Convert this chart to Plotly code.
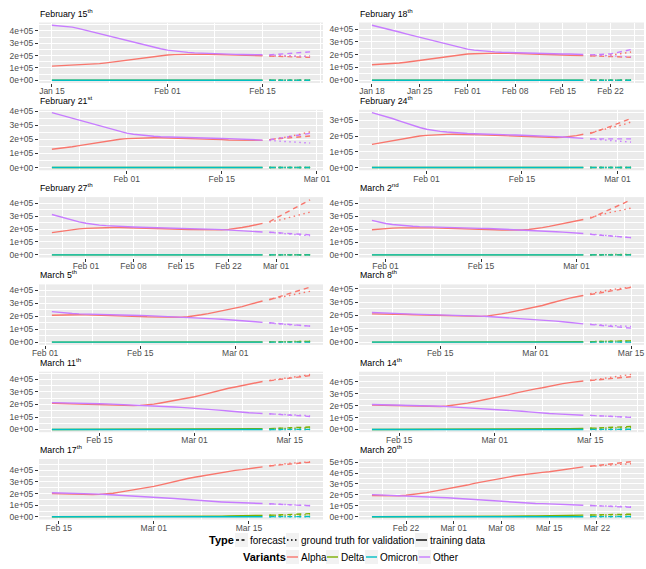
import pandas as pd
import plotly.graph_objects as go

# ---------------- data (values in thousands) ----------------
START = "2021-01-15"

ALPHA = [115, 117, 119, 122, 124, 127, 130, 135, 141, 148, 156, 164, 172, 180, 188, 195, 201,
         205, 208, 210, 211, 212, 212, 211, 210, 208, 207, 205, 204, 202, 200, 198, 196, 195, 193,
         192, 191, 193, 197, 203, 212, 221, 232, 243, 253,
         262, 275, 290, 305, 318, 330, 340, 350, 363, 375, 384, 393, 400, 406, 412, 420, 430, 440,
         448, 456, 461, 465, 470, 474, 478, 482, 485]

OTHER = [445, 441, 436, 430, 418, 404, 390, 377, 363, 350, 338, 325, 312, 297, 282, 268, 255,
         244, 236, 230, 226, 222, 219, 217, 215, 213, 212, 210, 209, 208, 207, 206, 205, 203, 201,
         199, 197, 195, 192, 189, 186, 183, 180, 177, 174,
         170, 166, 162, 158, 153, 148, 142, 137, 134, 131, 128, 125, 122, 120, 118, 116, 114, 111,
         108, 105, 103, 101, 99, 97, 95, 93, 92]

DELTA = [0.5, 0.5, 0.5, 0.5, 0.5, 0.5, 0.5, 0.5, 0.5, 0.5, 0.5, 0.5, 0.5, 0.5, 0.5, 0.5, 0.5,
         0.5, 0.5, 0.5, 0.5, 0.5, 0.5, 0.5, 0.5, 0.5, 0.5, 0.5, 0.5, 0.5, 0.5, 0.5, 0.5, 0.5, 0.5,
         0.5, 0.5, 0.5, 0.5, 0.5, 0.5, 0.5, 0.5, 0.5, 0.5,
         0.5, 0.5, 0.6, 1, 1.5, 2, 3, 3.5, 4.5, 5, 6, 7, 8, 9, 10, 11, 12, 13,
         14, 15, 15.5, 16, 16.5, 17, 18, 18.5, 19]

OMICRON = [0.5, 0.5, 0.5, 0.5, 0.5, 0.5, 0.5, 0.5, 0.5, 0.5, 0.5, 0.5, 0.5, 0.5, 0.5, 0.5, 0.5,
           0.5, 0.5, 0.5, 0.5, 0.5, 0.5, 0.5, 0.5, 0.5, 0.5, 0.5, 0.5, 0.5, 0.5, 0.5, 0.5, 0.5, 0.5,
           0.5, 0.5, 0.5, 0.5, 0.5, 0.5, 0.5, 0.5, 0.5, 0.5,
           0.5, 0.5, 0.5, 0.5, 0.5, 0.5, 0.5, 0.5, 0.5, 0.5, 0.5, 0.5, 0.5, 0.5, 0.5, 0.5, 0.5, 0.5,
           0.5, 0.5, 0.5, 0.5, 0.5, 0.5, 0.5, 0.5, 0.5]

ORIGINS = ["2021-02-15", "2021-02-18", "2021-02-21", "2021-02-24", "2021-02-27", "2021-03-02",
           "2021-03-05", "2021-03-08", "2021-03-11", "2021-03-14", "2021-03-17", "2021-03-20"]

TITLES = ["February 15<sup>th</sup>", "February 18<sup>th</sup>", "February 21<sup>st</sup>",
          "February 24<sup>th</sup>", "February 27<sup>th</sup>", "March 2<sup>nd</sup>",
          "March 5<sup>th</sup>", "March 8<sup>th</sup>", "March 11<sup>th</sup>",
          "March 14<sup>th</sup>", "March 17<sup>th</sup>", "March 20<sup>th</sup>"]

TRAIN_DAYS = 31
FC_OFFSETS = [1, 4, 7]   # forecast days after origin

FC_ALPHA = [[196, 191, 185], [191, 187, 180], [198, 211, 224], [217, 262, 313],
            [256, 338, 425], [283, 355, 427], [328, 377, 425], [356, 385, 410],
            [390, 411, 431], [410, 426, 442], [438, 455, 470], [462, 485, 503]]
FC_OTHER = [[205, 216, 230], [199, 206, 240], [197, 222, 243], [183, 182, 183],
            [175, 164, 155], [159, 146, 134], [150, 136, 124], [133, 118, 105],
            [126, 115, 104], [118, 110, 102], [112, 103, 95], [103, 95, 87]]
FC_DELTA = [[0.5, 0.5, 0.5], [0.5, 0.5, 0.5], [0.5, 0.5, 0.5], [0.5, 0.5, 0.6],
            [0.5, 0.7, 1], [0.6, 1, 2], [2, 4, 6], [4, 7, 10],
            [7, 13, 20], [10, 17, 25], [13, 20, 27], [16, 20, 24]]
FC_OMICRON = [[0.5, 0.5, 0.5], [0.5, 0.5, 0.5], [0.5, 0.5, 0.5], [0.5, 0.5, 0.5],
              [0.5, 0.5, 0.5], [0.5, 0.5, 0.5], [0.5, 0.5, 0.5], [0.5, 0.6, 0.8],
              [0.5, 0.8, 1.2], [0.8, 1.2, 1.8], [1, 1.8, 2.5], [1.5, 2, 2.5]]

X_TICKS = [
    ["2021-01-15", "2021-02-01", "2021-02-15"],
    ["2021-01-18", "2021-01-25", "2021-02-01", "2021-02-08", "2021-02-15", "2021-02-22"],
    ["2021-02-01", "2021-02-15", "2021-03-01"],
    ["2021-02-01", "2021-02-15", "2021-03-01"],
    ["2021-02-01", "2021-02-08", "2021-02-15", "2021-02-22", "2021-03-01"],
    ["2021-02-01", "2021-02-15", "2021-03-01"],
    ["2021-02-01", "2021-02-15", "2021-03-01"],
    ["2021-02-15", "2021-03-01", "2021-03-15"],
    ["2021-02-15", "2021-03-01", "2021-03-15"],
    ["2021-02-15", "2021-03-01", "2021-03-15"],
    ["2021-02-15", "2021-03-01", "2021-03-15"],
    ["2021-02-22", "2021-03-01", "2021-03-08", "2021-03-15", "2021-03-22"],
]

VARIANTS = ["Alpha", "Delta", "Omicron", "Other"]
TYPES = ["forecast", "ground truth for validation", "training data"]

# ---------------- styles ----------------
W, H = 646, 569
COLORS = {"Alpha": "#F8766D", "Delta": "#7CAE00", "Omicron": "#00BFC4", "Other": "#C77CFF"}
DASH = {"forecast": "5px,4px", "ground truth for validation": "1.5px,3.5px", "training data": "solid"}
FONT = "Liberation Sans, Arial, Helvetica, sans-serif"
LW = 1.4
COLS = [(39, 323), (359, 644)]
ROW_TOP0, ROW_STEP, PANEL_H = 22.5, 87.3, 60.5
TICK_SIZE, TITLE_SIZE, LEG_SIZE, LEG_TITLE_SIZE = 8.5, 8.8, 10, 11

truth = {"Alpha": ALPHA, "Delta": DELTA, "Omicron": OMICRON, "Other": OTHER}
fcs = {"Alpha": FC_ALPHA, "Delta": FC_DELTA, "Omicron": FC_OMICRON, "Other": FC_OTHER}
dates = pd.date_range(START, periods=len(ALPHA), freq="D")
day = pd.Timedelta(days=1)


def px(x):
    return x / W


def py(y):
    return 1 - y / H


fig = go.Figure()
annotations = []
shapes = []

for k, origin in enumerate(ORIGINS):
    o = pd.Timestamp(origin)
    r, c = divmod(k, 2)
    sfx = "" if k == 0 else str(k + 1)
    xref, yref = "x" + sfx, "y" + sfx
    tr_mask = (dates >= o - TRAIN_DAYS * day) & (dates <= o)
    gt_mask = (dates > o) & (dates <= o + max(FC_OFFSETS) * day)
    fc_dates = [o + d * day for d in FC_OFFSETS]
    allvals = []
    for typ in TYPES:
        for v in VARIANTS:
            s = pd.Series(truth[v], index=dates) * 1000
            if typ == "training data":
                xs, ys = s[tr_mask].index, s[tr_mask].values
            elif typ == "ground truth for validation":
                xs, ys = s[gt_mask].index, s[gt_mask].values
            else:
                xs, ys = fc_dates, [val * 1000 for val in fcs[v][k]]
            allvals.extend(list(ys))
            fig.add_trace(go.Scatter(
                x=xs, y=ys, mode="lines", xaxis=xref, yaxis=yref, showlegend=False,
                line=dict(color=COLORS[v], width=LW, dash=DASH[typ]),
                name=f"{v} - {typ}", hoverinfo="skip"))
    lo, hi = min(allvals), max(allvals)
    span = hi - lo
    ylo, yhi = lo - 0.05 * span, hi + 0.05 * span
    x0, x1 = o - TRAIN_DAYS * day, o + max(FC_OFFSETS) * day
    xspan = (x1 - x0) * 0.05
    xlo, xhi = x0 - xspan, x1 + xspan

    yt = [v * 100000 for v in range(0, 10) if ylo <= v * 100000 <= yhi]
    ymin = [v + 50000 for v in yt if ylo <= v + 50000 <= yhi]
    xt = [pd.Timestamp(t) for t in X_TICKS[k]]
    xmin = [xt[i] + (xt[i + 1] - xt[i]) / 2 for i in range(len(xt) - 1)]
    if len(xt) > 1:
        half = (xt[1] - xt[0]) / 2
        for cand in (xt[0] - half, xt[-1] + half):
            if xlo <= cand <= xhi:
                xmin.append(cand)

    top = ROW_TOP0 + ROW_STEP * r
    bot = top + PANEL_H
    cx0, cx1 = COLS[c]
    fig.layout["xaxis" + sfx] = dict(
        domain=[px(cx0), px(cx1)], anchor=yref, range=[xlo, xhi], type="date",
        automargin=False,
        tickmode="array", tickvals=xt, ticktext=[t.strftime("%b %d") for t in xt],
        showgrid=True, gridcolor="white", gridwidth=1.1, zeroline=False, showline=False,
        ticks="outside", ticklen=3, tickcolor="#333333", tickwidth=1,
        ticklabelstandoff=-3,
        tickfont=dict(family=FONT, size=TICK_SIZE, color="#4D4D4D"),
        minor=dict(tickmode="array", tickvals=xmin, showgrid=True, gridcolor="white",
                   gridwidth=0.5, ticks=""),
        fixedrange=True)
    fig.layout["yaxis" + sfx] = dict(
        domain=[py(bot), py(top)], anchor=xref, range=[ylo, yhi],
        automargin=False,
        tickmode="array", tickvals=yt, ticktext=[f"{v:.0e}" for v in yt],
        showgrid=True, gridcolor="white", gridwidth=1.1, zeroline=False, showline=False,
        ticks="outside", ticklen=3, tickcolor="#333333", tickwidth=1,
        tickfont=dict(family=FONT, size=TICK_SIZE, color="#4D4D4D"),
        minor=dict(tickmode="array", tickvals=ymin, showgrid=True, gridcolor="white",
                   gridwidth=0.5, ticks=""),
        fixedrange=True)
    annotations.append(dict(text=TITLES[k], xref="paper", yref="paper", x=px(cx0 - 1),
                            y=py(top - 2), xanchor="left", yanchor="bottom", showarrow=False,
                            font=dict(family=FONT, size=TITLE_SIZE, color="black")))

# ---------------- legends (drawn manually, ggplot style) ----------------
def legend_key(x0, yc, color, dash):
    shapes.append(dict(type="rect", xref="paper", yref="paper", x0=px(x0), x1=px(x0 + 13),
                       y0=py(yc + 7), y1=py(yc - 7), fillcolor="#F2F2F2", line=dict(width=0)))
    shapes.append(dict(type="line", xref="paper", yref="paper", x0=px(x0 + 1), x1=px(x0 + 12),
                       y0=py(yc), y1=py(yc), line=dict(color=color, width=LW, dash=dash)))


def legend_text(x, yc, text, bold=False):
    annotations.append(dict(text=f"<b>{text}</b>" if bold else text, xref="paper",
                            yref="paper", x=px(x), y=py(yc), xanchor="left",
                            yanchor="middle", showarrow=False,
                            font=dict(family=FONT, size=LEG_TITLE_SIZE if bold else LEG_SIZE,
                                      color="black")))


y1 = 540
legend_text(207, y1, "Type", bold=True)
legend_key(235, y1, "black", "3px,2.5px")
legend_text(248, y1, TYPES[0])
legend_key(286, y1, "black", "1.5px,2.5px")
legend_text(299, y1, TYPES[1])
legend_key(415, y1, "black", "solid")
legend_text(428, y1, TYPES[2])

y2 = 557
legend_text(241, y2, "Variants", bold=True)
for xk, v in zip([286, 326, 365, 418], VARIANTS):
    legend_key(xk, y2, COLORS[v], "solid")
    legend_text(xk + 13, y2, v)

fig.update_layout(
    template="none",
    width=W, height=H, margin=dict(l=0, r=0, t=0, b=0, autoexpand=False),
    paper_bgcolor="white", plot_bgcolor="#EBEBEB",
    font=dict(family=FONT), showlegend=False,
    annotations=annotations, shapes=shapes)

fig.write_html("out.html", config={"displayModeBar": False},
               post_script="document.body.style.margin='0px';document.body.style.overflow='hidden';")
